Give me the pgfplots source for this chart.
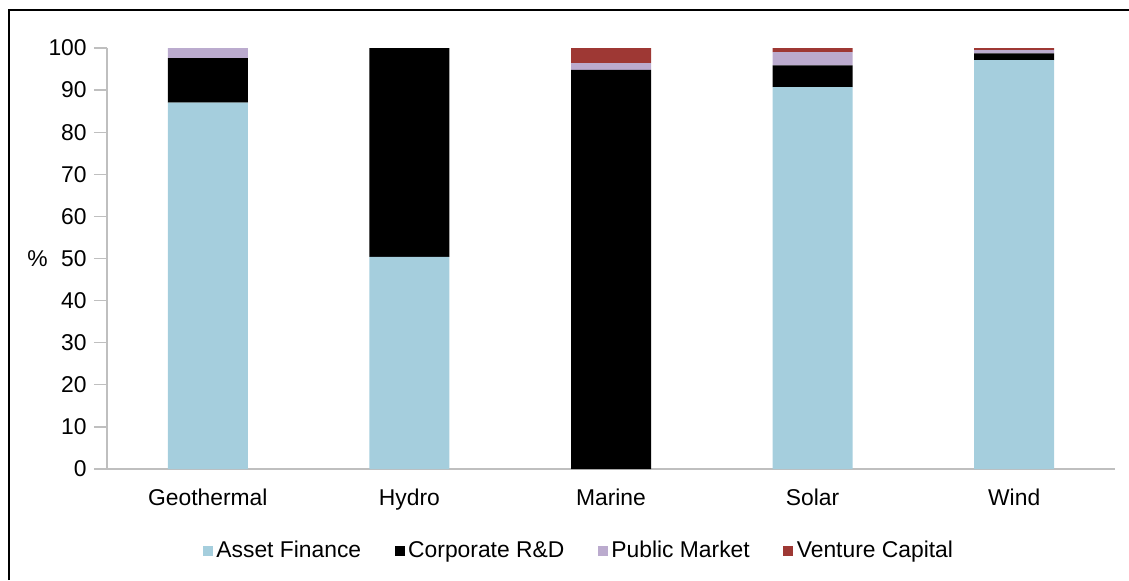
\documentclass[border=0pt]{standalone}
\usepackage{pgfplots}
\pgfplotsset{compat=1.18}
\usepackage{fontspec}
\setmainfont{Liberation Sans}

\definecolor{assetblue}{RGB}{165,206,221}
\definecolor{corpblack}{RGB}{0,0,0}
\definecolor{pubpurple}{RGB}{187,171,206}
\definecolor{ventred}{RGB}{158,56,52}
\definecolor{axisgray}{RGB}{191,191,191}

\begin{document}
\fontsize{13}{15}\selectfont
\begin{tikzpicture}
	% page frame (1129 x 580 px, 1px = 0.2mm)
	\useasboundingbox (0mm,0mm) rectangle (225.8mm,-116mm);
	\draw[line width=0.35mm] (1.8mm,-116mm) -- (1.8mm,-2mm) -- (225.8mm,-2mm);

	\begin{axis}[
		at={(21.4mm,-93.8mm)},
		anchor=south west,
		scale only axis,
		width=201.6mm,
		height=84.2mm,
		ybar stacked,
		bar width=16mm,
		xmin=-0.5, xmax=4.5,
		ymin=0, ymax=100,
		xtick={0,1,2,3,4},
		xticklabels={Geothermal,Hydro,Marine,Solar,Wind},
		ytick={0,10,...,100},
		axis x line*=bottom,
		axis y line*=left,
		axis line style={axisgray, line width=0.25mm, -},
		tick align=outside,
		major tick length=2.6mm,
		y tick style={axisgray, line width=0.25mm},
		x tick style={draw=none},
		yticklabel style={inner sep=0pt, xshift=-1.4mm},
		xticklabel style={inner sep=0pt, yshift=-1.4mm},
		/pgf/number format/assume math mode=true,
		ylabel={\%},
		ylabel style={rotate=-90, at={(axis description cs:-0.069,0.5)}, anchor=center},
		legend style={
			at={(axis description cs:0.469,-0.195)},
			anchor=center,
			draw=none,
			fill=none,
			legend columns=-1,
			/tikz/every even column/.append style={column sep=6mm},
		},
		legend image code/.code={\fill[#1] (0mm,-1mm) rectangle (2mm,1mm);},
		every axis plot/.append style={draw=none},
	]
		\addplot[fill=assetblue] coordinates {(0,87.0) (1,50.4) (2,0) (3,90.7) (4,97.1)};
		\addplot[fill=corpblack] coordinates {(0,10.6) (1,49.6) (2,94.8) (3,5.2) (4,1.6)};
		\addplot[fill=pubpurple] coordinates {(0,2.4) (1,0) (2,1.6) (3,3.1) (4,0.8)};
		\addplot[fill=ventred] coordinates {(0,0) (1,0) (2,3.6) (3,1.0) (4,0.5)};
		\legend{Asset Finance,Corporate R\&D,Public Market,Venture Capital}
	\end{axis}
\end{tikzpicture}
\end{document}
